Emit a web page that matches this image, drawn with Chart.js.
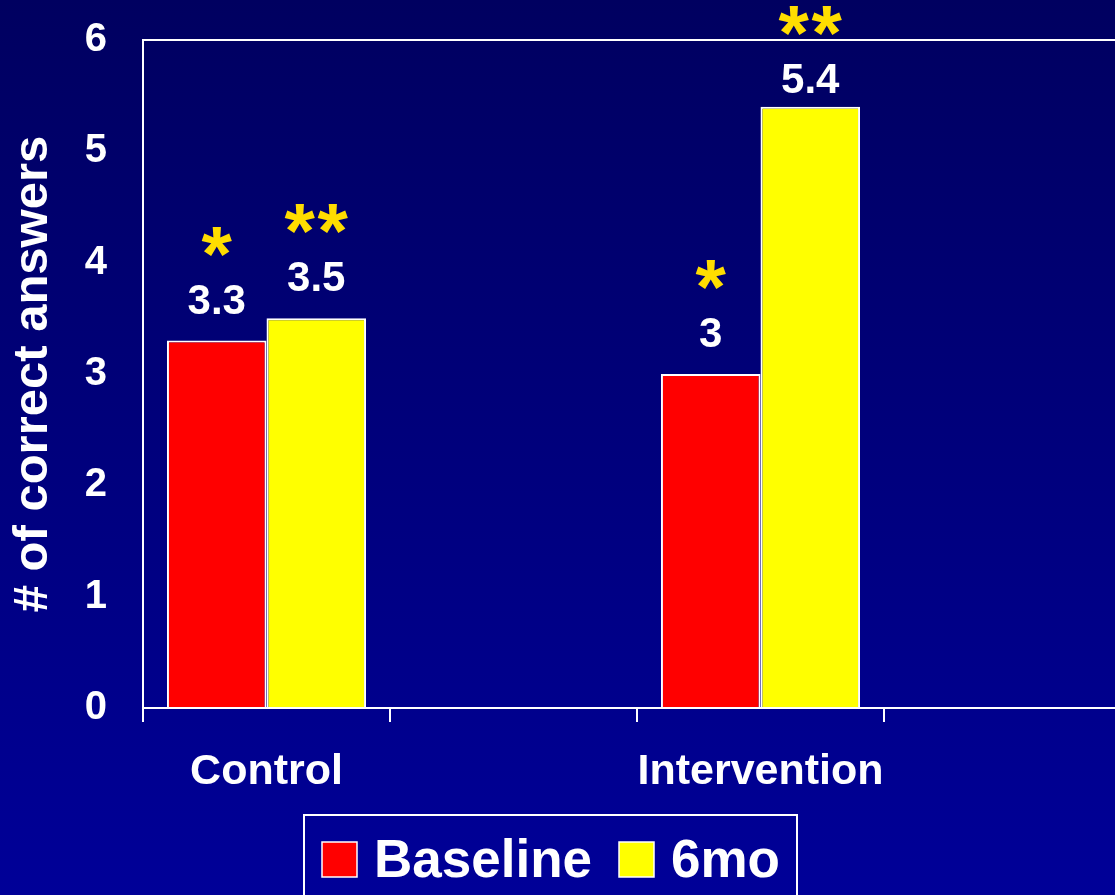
<!DOCTYPE html>
<html>
<head>
<meta charset="utf-8">
<script src="https://cdn.jsdelivr.net/npm/chart.js@4.4.1/dist/chart.umd.min.js"></script>
<style>
  html, body { margin: 0; padding: 0; overflow: hidden; width: 1115px; height: 895px; }
  body { background: linear-gradient(to bottom, #000060 0%, #000098 100%); }
  #wrap { position: absolute; left: 0; top: 0; width: 1135px; height: 895px; }
  canvas { display: block; }
</style>
</head>
<body>
<div id="wrap"><canvas id="c" width="1135" height="895" style="width:1135px;height:895px"></canvas></div>
<script>
// ---- data ----
const categories = ['Control', '', 'Intervention', ''];
const seriesNames = ['Baseline', '6mo'];
const baselineValues = [3.3, null, 3.0, null];
const sixMonthValues = [3.5, null, 5.4, null];
const baselineStars = ['*', null, '*', null];
const sixMonthStars = ['**', null, '**', null];
const yTicks = [0, 1, 2, 3, 4, 5, 6];
const yTitle = '# of correct answers';

const FONT = "'Liberation Sans', Arial, sans-serif";
const WHITE = '#ffffff';
const STAR_COLOR = '#ffdd00';

const annotatePlugin = {
  id: 'annotate',
  afterDatasetsDraw(chart) {
    const ctx = chart.ctx;
    const starSets = [baselineStars, sixMonthStars];
    ctx.save();
    chart.data.datasets.forEach((ds, di) => {
      const meta = chart.getDatasetMeta(di);
      meta.data.forEach((bar, i) => {
        const v = ds.data[i];
        if (v === null || v === undefined) return;
        const x = bar.x;
        let labelBase = bar.y - 27;
        let starCenter = labelBase - 72;
        if (starCenter < 21) { const s = 21 - starCenter; labelBase += s; starCenter += s; }
        ctx.font = 'bold 42px ' + FONT;
        ctx.fillStyle = WHITE;
        ctx.textAlign = 'center';
        ctx.textBaseline = 'alphabetic';
        ctx.fillText(String(v), x, labelBase);
        const st = starSets[di][i];
        if (st) {
          ctx.font = 'bold 78px ' + FONT;
          ctx.fillStyle = STAR_COLOR;
          const m = ctx.measureText('*');
          const base = starCenter + (m.actualBoundingBoxAscent - m.actualBoundingBoxDescent) / 2;
          const n = st.length, gap = 33;
          for (let k = 0; k < n; k++) {
            const cx = x + (k - (n - 1) / 2) * gap;
            ctx.fillText('*', cx, base);
          }
        }
      });
    });
    ctx.restore();
  }
};

const legendPlugin = {
  id: 'boxLegend',
  afterDraw(chart) {
    const ctx = chart.ctx;
    ctx.save();
    const boxX = 304, boxY = 815, boxW = 493, boxH = 120;
    ctx.strokeStyle = WHITE;
    ctx.lineWidth = 2;
    ctx.strokeRect(boxX, boxY, boxW, boxH);
    ctx.font = 'bold 53px ' + FONT;
    ctx.textBaseline = 'alphabetic';
    ctx.textAlign = 'left';
    let x = 322;
    const sq = 35, sqY = 842, textBase = 877;
    chart.data.datasets.forEach((ds, i) => {
      ctx.fillStyle = ds.backgroundColor;
      ctx.fillRect(x, sqY, sq, sq);
      ctx.lineWidth = 1.5;
      ctx.strokeStyle = WHITE;
      ctx.strokeRect(x, sqY, sq, sq);
      x += sq + 17;
      ctx.fillStyle = WHITE;
      ctx.fillText(ds.label, x, textBase);
      x += ctx.measureText(ds.label).width + 27;
    });
    ctx.restore();
  }
};

new Chart(document.getElementById('c'), {
  type: 'bar',
  data: {
    labels: categories,
    datasets: [
      { label: seriesNames[0], data: baselineValues, backgroundColor: '#ff0000', borderColor: WHITE, borderWidth: 2 },
      { label: seriesNames[1], data: sixMonthValues, backgroundColor: '#ffff00', borderColor: WHITE, borderWidth: 2 }
    ]
  },
  options: {
    responsive: false,
    animation: false,
    devicePixelRatio: 1,
    layout: { padding: { top: 40, right: 4, left: 0, bottom: 0 } },
    datasets: { bar: { categoryPercentage: 0.806, barPercentage: 1.0 } },
    plugins: { legend: { display: false }, tooltip: { enabled: false } },
    scales: {
      x: {
        offset: true,
        afterFit(scale) { scale.height = 187; },
        grid: { offset: true, drawOnChartArea: false, drawTicks: true, tickLength: 14, color: WHITE, lineWidth: 2 },
        border: { display: true, color: WHITE, width: 2 },
        ticks: { color: WHITE, font: { family: FONT, size: 43, weight: 'bold' }, padding: 24, maxRotation: 0, autoSkip: false }
      },
      y: {
        min: yTicks[0],
        max: yTicks[yTicks.length - 1],
        afterFit(scale) { scale.width = 143; scale.paddingTop = 0; scale.paddingBottom = 0; },
        afterBuildTicks(scale) { scale.ticks = yTicks.map(v => ({ value: v })); },
        grid: {
          drawTicks: false,
          lineWidth: 2,
          color: (c) => (c.tick && c.tick.value === yTicks[yTicks.length - 1]) ? WHITE : 'rgba(0,0,0,0)'
        },
        border: { display: true, color: WHITE, width: 2 },
        ticks: { color: WHITE, font: { family: FONT, size: 40, weight: 'bold' }, padding: 36 },
        title: { display: true, text: yTitle, color: WHITE, font: { family: FONT, size: 49, weight: 'bold' }, padding: { top: 4, bottom: 0 } }
      }
    }
  },
  plugins: [annotatePlugin, legendPlugin]
});
</script>
</body>
</html>
